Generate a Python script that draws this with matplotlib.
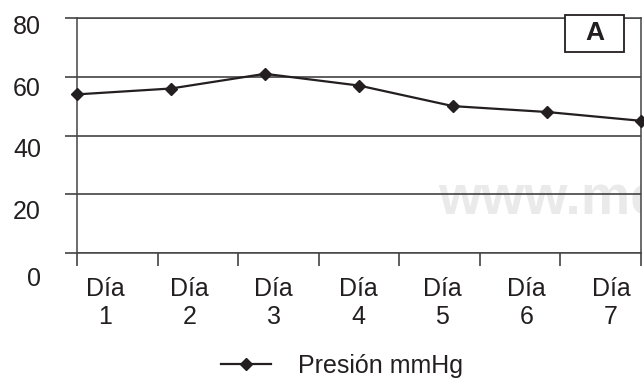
import numpy as np
import matplotlib
matplotlib.use("Agg")
import matplotlib.pyplot as plt
from matplotlib.patches import Rectangle
from matplotlib.transforms import ScaledTranslation

plt.rcParams['font.family'] = ['Liberation Sans', 'DejaVu Sans']

# data
dias = ["Día\n1", "Día\n2", "Día\n3", "Día\n4", "Día\n5", "Día\n6", "Día\n7"]
presion = [54, 56, 61, 57, 50, 48, 45]
y_ticks = [0, 20, 40, 60, 80]
serie = "Presión mmHg"
panel = "A"

ink = "#231f20"
fs = 18
fig = plt.figure(figsize=(6.44, 3.79), dpi=100)
ax = fig.add_axes([77 / 644, 1 - 253 / 379, 564 / 644, 235 / 379])
ax.set_facecolor("none")

x = np.arange(len(presion))
ax.plot(x, presion, color=ink, lw=1.6, marker="D", ms=6.2, zorder=4,
        label=serie, clip_on=False)

ax.set_xlim(0, len(presion) - 1)
ax.set_ylim(0, 80)

# y axis: gridlines that continue to the left as ticks
ax.set_yticks(y_ticks)
ax.grid(axis="y", color="#333333", lw=1.1)
ax.tick_params(axis="y", direction="out", length=9, width=1.1, color="#333333",
               pad=17, labelsize=fs, labelcolor=ink)
# labels sit a little lower than their lines in the original
offsets = [23, 15, 12, 10, 6]
for lab, off in zip(ax.get_yticklabels(), offsets):
    lab.set_transform(lab.get_transform() +
                      ScaledTranslation(0, -off / 100, fig.dpi_scale_trans))

# x axis: ticks between categories, labels on minor ticks
ax.set_xticks(np.linspace(0, len(presion) - 1, len(presion) + 1))
ax.set_xticklabels([])
ax.tick_params(axis="x", which="major", direction="out", length=9, width=1.1,
               color="#333333")
ax.set_xticks(np.linspace(0.3, 5.68, len(dias)), minor=True)
ax.set_xticklabels(dias, minor=True, fontsize=fs, color=ink, linespacing=1.25)
ax.tick_params(axis="x", which="minor", length=0, pad=17)

for side in ["left", "right", "bottom", "top"]:
    ax.spines[side].set_color("#444444")
    ax.spines[side].set_linewidth(1.1)

# watermark, cut off at the right edge of the plot
wm = ax.text(438 / 644, 1 - 214 / 379, "www.medigraphic.com",
             transform=fig.transFigure, fontsize=40, fontweight="bold",
             color="#eaeaea", zorder=0.5, clip_on=True)
wm.set_clip_path(ax.patch)

# panel letter box
fig.patches.append(Rectangle((565 / 644, 1 - 52 / 379), 59 / 644, 37 / 379,
                             transform=fig.transFigure, facecolor="white",
                             edgecolor=ink, lw=1.3, zorder=5))
fig.text(594.5 / 644, 1 - 33.5 / 379, panel, ha="center", va="center",
         fontsize=19, fontweight="bold", color=ink, zorder=6)

leg = fig.legend(loc="center", bbox_to_anchor=(342 / 644, 1 - 366 / 379),
                 frameon=False, fontsize=fs, handlelength=2.0,
                 handletextpad=1.05, labelcolor=ink)

fig.savefig("out.png", dpi=100)
